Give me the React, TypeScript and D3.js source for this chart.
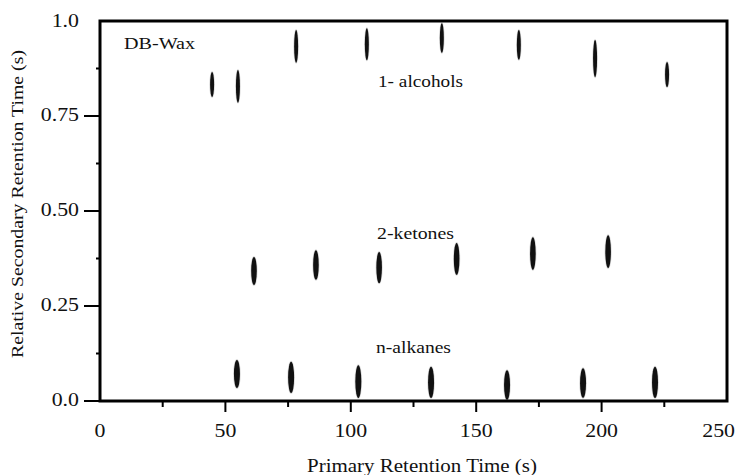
import React from "react";
import * as d3 from "d3";

// ---- data (seconds) ----
const alcoholX = [44.7, 55.0, 78.2, 106.4, 136.3, 167.0, 197.4, 226.1];
const alcoholY = [0.833, 0.828, 0.933, 0.939, 0.955, 0.937, 0.901, 0.859];
const alcoholSpread = [0.033, 0.043, 0.043, 0.042, 0.039, 0.039, 0.049, 0.033];

const ketoneX = [61.4, 86.1, 111.3, 142.2, 172.6, 202.6];
const ketoneY = [0.342, 0.358, 0.351, 0.374, 0.388, 0.393];
const ketoneSpread = [0.037, 0.039, 0.041, 0.042, 0.043, 0.043];

const alkaneX = [54.6, 76.2, 103.0, 132.0, 162.3, 192.6, 221.3];
const alkaneY = [0.071, 0.062, 0.051, 0.049, 0.042, 0.047, 0.049];
const alkaneSpread = [0.037, 0.041, 0.043, 0.041, 0.039, 0.039, 0.041];

const xTicks = [0, 50, 100, 150, 200, 250];
const xMinorTicks = [25, 75, 125, 175, 225];
const yTicks = [0, 0.25, 0.5, 0.75, 1.0];
const yTickLabels = ["0.0", "0.25", "0.50", "0.75", "1.0"];
const yMinorTicks = [0.125, 0.375, 0.625, 0.875];

const seriesNames = ["1- alcohols", "2-ketones", "n-alkanes"];
const columnLabel = "DB-Wax";
const xTitle = "Primary Retention Time (s)";
const yTitle = "Relative Secondary Retention Time (s)";

const W = 738;
const H = 475;
const M = { left: 100, right: 727, top: 21, bottom: 401 };
const FONT = "Liberation Serif";

export default function App() {
  const x = d3.scaleLinear().domain([0, 250]).range([M.left, M.right]);
  const y = d3.scaleLinear().domain([0, 1]).range([M.bottom, M.top]);

  const series = [
    { xs: alcoholX, ys: alcoholY, sp: alcoholSpread, rx: 2.0 },
    { xs: ketoneX, ys: ketoneY, sp: ketoneSpread, rx: 2.8 },
    { xs: alkaneX, ys: alkaneY, sp: alkaneSpread, rx: 3.0 },
  ];

  const stretch = 1.15;
  const textStyle = { fontFamily: FONT } as React.CSSProperties;

  return (
    <svg
      width={W}
      height={H}
      style={{ position: "absolute", left: 0, top: 0, background: "#fff" }}
    >
      <rect x={0} y={0} width={W} height={H} fill="#fff" />

      {/* spots */}
      {series.map((s, si) =>
        s.xs.map((xv, i) => {
          const cy = y(s.ys[i]);
          const ry = y(s.ys[i] - s.sp[i]) - cy;
          return (
            <g key={`${si}-${i}`}>
              <ellipse cx={x(xv)} cy={cy} rx={s.rx + 0.8} ry={ry + 1} fill="#999" opacity={0.35} />
              <ellipse cx={x(xv)} cy={cy} rx={s.rx} ry={ry} fill="#111" />
            </g>
          );
        })
      )}

      {/* frame */}
      <rect
        x={M.left}
        y={M.top}
        width={M.right - M.left}
        height={M.bottom - M.top}
        fill="none"
        stroke="#000"
        strokeWidth={3}
      />

      {/* x ticks */}
      {xTicks
        .filter((t) => t > 0 && t < 250)
        .map((t) => (
          <line key={`xt${t}`} x1={x(t)} x2={x(t)} y1={M.bottom} y2={M.bottom + 11} stroke="#000" strokeWidth={2} />
        ))}
      {xMinorTicks.map((t) => (
        <line key={`xm${t}`} x1={x(t)} x2={x(t)} y1={M.bottom} y2={M.bottom + 6} stroke="#000" strokeWidth={2} />
      ))}
      {xTicks.map((t, i) => {
        const last = i === xTicks.length - 1;
        const px = last ? x(t) + 8 : x(t);
        return (
          <text
            key={`xl${t}`}
            transform={`translate(${px},${M.bottom + 36}) scale(${stretch},1)`}
            textAnchor={last ? "end" : "middle"}
            fontSize={19}
            fill="#111"
            style={textStyle}
          >
            {t}
          </text>
        );
      })}

      {/* y ticks */}
      {yTicks
        .filter((t) => t < 1)
        .map((t) => (
          <line key={`yt${t}`} x1={M.left - 16} x2={M.left} y1={y(t)} y2={y(t)} stroke="#000" strokeWidth={2} />
        ))}
      {yMinorTicks.map((t) => (
        <line key={`ym${t}`} x1={M.left - 4} x2={M.left} y1={y(t)} y2={y(t)} stroke="#000" strokeWidth={2} />
      ))}
      {yTicks.map((t, i) => (
        <text
          key={`yl${t}`}
          transform={`translate(${M.left - 21},${y(t) + (t === 1 ? 6 : 5)}) scale(${stretch},1)`}
          textAnchor="end"
          fontSize={19}
          fill="#111"
          style={textStyle}
        >
          {yTickLabels[i]}
        </text>
      ))}

      {/* in-plot labels */}
      <text x={124} y={49} fontSize={17} textLength={71} lengthAdjust="spacingAndGlyphs" fill="#111" style={textStyle}>
        {columnLabel}
      </text>
      <text x={378} y={87} fontSize={17.5} textLength={85} lengthAdjust="spacingAndGlyphs" fill="#111" style={textStyle}>
        {seriesNames[0]}
      </text>
      <text x={377} y={239} fontSize={17.5} textLength={77} lengthAdjust="spacingAndGlyphs" fill="#111" style={textStyle}>
        {seriesNames[1]}
      </text>
      <text x={376} y={353} fontSize={17.5} textLength={75} lengthAdjust="spacingAndGlyphs" fill="#111" style={textStyle}>
        {seriesNames[2]}
      </text>

      {/* axis titles */}
      <text x={307} y={472} fontSize={19} textLength={230} lengthAdjust="spacingAndGlyphs" fill="#111" style={textStyle}>
        {xTitle}
      </text>
      <text
        transform={`translate(23,358) rotate(-90)`}
        x={0}
        y={0}
        fontSize={17}
        textLength={308}
        lengthAdjust="spacingAndGlyphs"
        fill="#111"
        style={textStyle}
      >
        {yTitle}
      </text>
    </svg>
  );
}
